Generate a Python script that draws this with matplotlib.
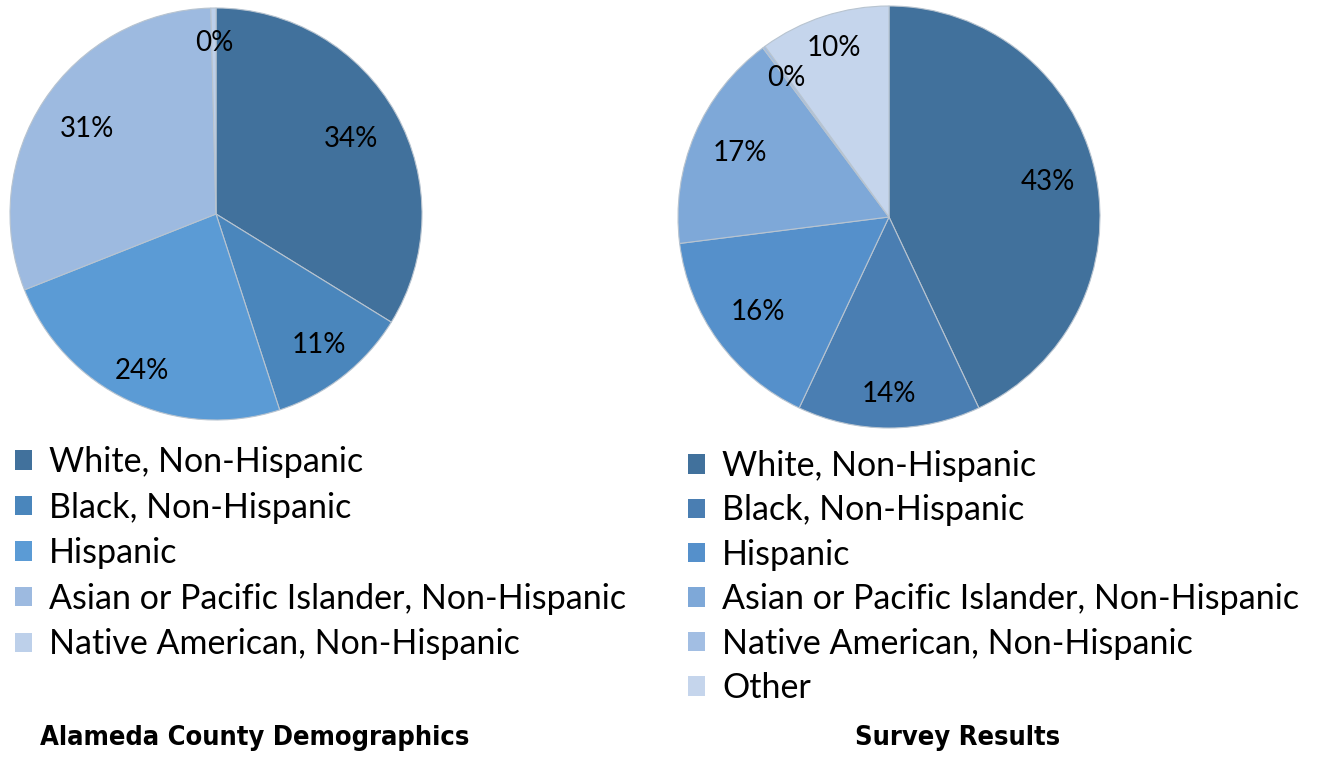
import matplotlib
matplotlib.use("Agg")
import matplotlib.pyplot as plt
import numpy as np
from matplotlib.patches import Patch

# ---- data ----
left_labels = ["White, Non-Hispanic", "Black, Non-Hispanic", "Hispanic",
               "Asian or Pacific Islander, Non-Hispanic", "Native American, Non-Hispanic"]
left_values = [33.8, 11.2, 24.0, 30.6, 0.4]
left_pct_text = ["34%", "11%", "24%", "31%", "0%"]

right_labels = ["White, Non-Hispanic", "Black, Non-Hispanic", "Hispanic",
                "Asian or Pacific Islander, Non-Hispanic", "Native American, Non-Hispanic", "Other"]
right_values = [43.0, 14.0, 16.0, 16.8, 0.2, 10.0]
right_pct_text = ["43%", "14%", "16%", "17%", "0%", "10%"]

left_title = "Alameda County Demographics"
right_title = "Survey Results"

# ---- style ----
left_colors = ["#41719C", "#4A86BC", "#5B9BD5", "#9DBAE0", "#BDD0EA"]
right_colors = ["#41719C", "#4A7EB2", "#5590CB", "#7EA8D8", "#A2BEE3", "#C5D5EC"]
left_dist = [0.75, 0.81, 0.84, 0.75, 0.83]
right_dist = [0.77, 0.84, 0.77, 0.77, 0.82, 0.84]

W, H = 1319, 757
fig = plt.figure(figsize=(W / 100, H / 100), dpi=100)
label_font = ["Lato", "DejaVu Sans"]


def draw_pie(cx, cy, r, values, colors, texts, dists):
    ax = fig.add_axes([(cx - r) / W, (H - cy - r) / H, 2 * r / W, 2 * r / H])
    wedges, _ = ax.pie(values, colors=colors, startangle=90, counterclock=False,
                       radius=1.0, wedgeprops=dict(edgecolor="#B8C4D0", linewidth=0.8))
    for w, t, d in zip(wedges, texts, dists):
        ang = np.deg2rad((w.theta1 + w.theta2) / 2)
        ax.text(d * np.cos(ang), d * np.sin(ang), t, ha="center", va="center",
                fontsize=20, family=label_font, color="black")
    ax.set_xlim(-1, 1)
    ax.set_ylim(-1, 1)
    ax.set_aspect("equal")
    ax.axis("off")
    return wedges


draw_pie(216, 214, 206, left_values, left_colors, left_pct_text, left_dist)
draw_pie(889, 217, 211, right_values, right_colors, right_pct_text, right_dist)

lh = [Patch(facecolor=c, edgecolor="none") for c in left_colors]
rh = [Patch(facecolor=c, edgecolor="none") for c in right_colors]

leg_kw = dict(frameon=False, prop={"family": label_font, "size": 24.5},
              handlelength=0.5, handleheight=0.5, handletextpad=0.5,
              borderaxespad=0, borderpad=0, loc="upper left")
fig.legend(lh, left_labels, bbox_to_anchor=(15 / W, 1 - 446 / H), labelspacing=0.40, **leg_kw)
fig.legend(rh, right_labels, bbox_to_anchor=(688 / W, 1 - 450 / H), labelspacing=0.365, **leg_kw)

title_kw = dict(ha="center", va="center", fontsize=19.5, fontweight="bold",
                family=["DejaVu Sans"], fontstretch="condensed")
fig.text(255 / W, 1 - 738 / H, left_title, **title_kw)
fig.text(958 / W, 1 - 738 / H, right_title, **title_kw)

fig.savefig("out.png", dpi=100, facecolor="white")
